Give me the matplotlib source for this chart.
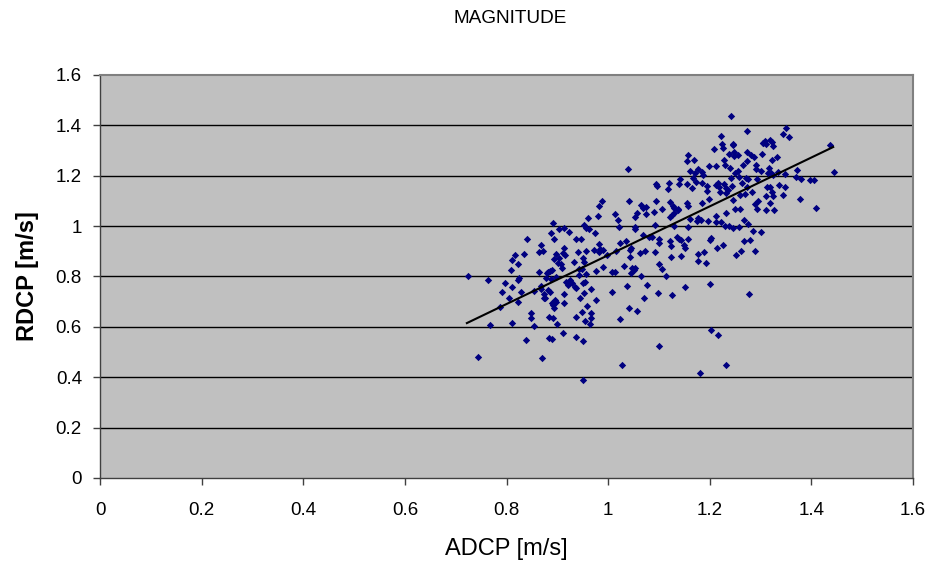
import numpy as np
import matplotlib
matplotlib.use("Agg")
import matplotlib.pyplot as plt

plt.rcParams['font.family'] = ['Liberation Sans', 'DejaVu Sans']

# --- datos (ADCP vs RDCP) ---
adcp = [
    0.725, 0.764, 0.743, 0.767, 0.787, 0.791, 0.797, 0.804, 0.810, 0.809,
    0.810, 0.817, 0.823, 0.823, 0.825, 0.828, 0.823, 0.810, 0.835, 0.841,
    0.838, 0.849, 0.849, 0.854, 0.854, 0.864, 0.863, 0.868, 0.871, 0.868,
    0.867, 0.873, 0.876, 0.873, 0.869, 0.877, 0.879, 0.882, 0.886, 0.890,
    0.882, 0.885, 0.884, 0.887, 0.891, 0.894, 0.897, 0.893, 0.888, 0.890,
    0.892, 0.894, 0.895, 0.897, 0.884, 0.890, 0.892, 0.899, 0.903, 0.903,
    0.897, 0.902, 0.907, 0.909, 0.913, 0.914, 0.912, 0.915, 0.913, 0.914,
    0.912, 0.918, 0.922, 0.923, 0.925, 0.928, 0.933, 0.934, 0.936, 0.937,
    0.947, 0.940, 0.942, 0.943, 0.936, 0.937, 0.951, 0.951, 0.948, 0.952,
    0.956, 0.961, 0.963, 0.951, 0.953, 0.956, 0.957, 0.950, 0.954, 0.953,
    0.945, 0.948, 0.959, 0.955, 0.966, 0.967, 0.964, 0.967, 0.972, 0.975,
    0.980, 0.983, 0.988, 0.976, 0.976, 0.982, 0.985, 0.990, 0.983, 0.989,
    0.997,
    # zona central
    1.040, 1.013, 1.019, 1.022, 1.024, 1.035, 1.016, 1.007, 1.013, 1.007,
    1.023, 1.032, 1.038, 1.041, 1.043, 1.046, 1.043, 1.047, 1.050, 1.052,
    1.045, 1.041, 1.056, 1.052, 1.053, 1.052, 1.056, 1.064, 1.069, 1.074,
    1.062, 1.064, 1.070, 1.069, 1.072, 1.075, 1.077, 1.081, 1.087, 1.090,
    1.093, 1.095, 1.095, 1.096, 1.093, 1.099, 1.101, 1.101, 1.101, 1.107,
    1.106, 1.114, 1.117, 1.120, 1.121, 1.122, 1.125, 1.127, 1.129, 1.122,
    1.123, 1.123, 1.126, 1.129, 1.130, 1.137, 1.138, 1.136, 1.140, 1.142,
    1.140, 1.144, 1.144, 1.150, 1.152, 1.152, 1.156, 1.158, 1.155, 1.157,
    1.158, 1.156, 1.158, 1.161, 1.162, 1.165, 1.167, 1.169, 1.171, 1.176,
    1.173, 1.174, 1.177, 1.176, 1.176, 1.184, 1.185, 1.186, 1.182, 1.184,
    1.188, 1.192, 1.194, 1.195, 1.196, 1.199, 1.200, 1.202, 1.217, 1.201,
    1.203, 1.198, 1.209, 1.213, 1.213, 1.213, 1.213, 1.217, 1.215, 1.219,
    1.220, 1.222, 1.225, 1.226, 1.228, 1.228, 1.227, 1.230, 1.232, 1.230,
    1.232, 1.232, 1.235, 1.238, 1.239, 1.238, 1.241, 1.243, 1.245, 1.245,
    1.245, 1.248, 1.248, 1.250, 1.250, 1.252, 1.255, 1.255, 1.257, 1.257,
    1.259, 1.259, 1.261, 1.264, 1.266, 1.268, 1.268, 1.270, 1.272, 1.273,
    1.274, 1.274, 1.276, 1.276, 1.278, 1.280, 1.282, 1.283, 1.285, 1.288,
    1.291, 1.290, 1.291, 1.293, 1.290, 1.293, 1.295, 1.301, 1.301, 1.303,
    1.304, 1.308,
    # puntos bajos y altos sueltos
    1.027, 1.100, 1.180, 1.232,
    1.242, 1.273, 1.223, 1.245, 1.305,
    # zona derecha
    1.350, 1.345, 1.356, 1.319, 1.323, 1.325, 1.310, 1.333, 1.322, 1.317,
    1.314, 1.321, 1.325, 1.334, 1.348, 1.371, 1.370, 1.379, 1.398, 1.405,
    1.437, 1.445, 1.312, 1.319, 1.336, 1.349, 1.323, 1.324, 1.310, 1.344,
    1.319, 1.377, 1.409, 1.311, 1.327,
]
rdcp = [
    0.801, 0.786, 0.482, 0.609, 0.678, 0.740, 0.773, 0.716, 0.757, 0.826,
    0.865, 0.887, 0.850, 0.786, 0.795, 0.737, 0.700, 0.617, 0.890, 0.949,
    0.547, 0.654, 0.634, 0.602, 0.744, 0.819, 0.899, 0.924, 0.901, 0.762,
    0.752, 0.729, 0.713, 0.716, 0.478, 0.793, 0.813, 0.818, 0.822, 0.826,
    0.746, 0.738, 0.639, 0.974, 1.014, 0.949, 0.888, 0.869, 0.789, 0.693,
    0.687, 0.674, 0.707, 0.699, 0.557, 0.553, 0.637, 0.610, 0.987, 0.873,
    0.799, 0.855, 0.851, 0.834, 0.994, 0.912, 0.892, 0.884, 0.729, 0.696,
    0.574, 0.777, 0.768, 0.977, 0.786, 0.773, 0.856, 0.759, 0.753, 0.948,
    0.949, 0.896, 0.829, 0.807, 0.639, 0.561, 0.545, 0.389, 0.828, 1.006,
    0.993, 1.033, 0.987, 0.872, 0.859, 0.902, 0.810, 0.775, 0.777, 0.733,
    0.715, 0.658, 0.682, 0.624, 0.654, 0.635, 0.611, 0.750, 0.905, 0.974,
    1.040, 1.078, 1.100, 0.821, 0.707, 0.928, 0.910, 0.905, 0.896, 0.836,
    0.884,
    # zona central
    1.228, 1.047, 1.024, 0.998, 0.932, 0.941, 0.901, 0.819, 0.817, 0.737,
    0.630, 0.843, 0.764, 1.100, 0.905, 0.912, 0.876, 0.835, 0.826, 0.833,
    0.813, 0.673, 0.663, 0.998, 0.987, 1.035, 1.054, 1.085, 1.073, 1.075,
    0.892, 0.802, 0.714, 0.965, 0.901, 1.048, 0.768, 0.957, 0.958, 1.055,
    1.006, 1.100, 1.166, 1.159, 0.899, 0.735, 0.948, 0.933, 0.848, 0.831,
    1.067, 0.801, 1.148, 1.170, 1.095, 1.038, 1.044, 1.081, 1.071, 0.942,
    0.921, 0.878, 0.728, 0.999, 1.051, 1.069, 1.062, 0.958, 0.950, 1.186,
    1.166, 0.883, 0.945, 0.924, 0.912, 0.760, 1.092, 1.079, 1.166, 0.995,
    1.282, 1.260, 0.948, 1.027, 1.219, 1.153, 1.193, 1.263, 1.210, 1.228,
    1.174, 1.022, 1.034, 0.888, 0.863, 1.171, 1.216, 1.202, 1.023, 1.091,
    0.899, 0.853, 1.141, 1.158, 1.020, 1.240, 0.769, 0.587, 0.567, 0.946,
    0.952, 1.107, 1.308, 1.239, 1.165, 1.042, 1.015, 1.171, 0.912, 1.157,
    1.134, 1.018, 1.326, 1.310, 1.263, 1.167, 0.925, 1.244, 1.054, 1.002,
    1.150, 1.130, 1.142, 1.288, 1.230, 1.001, 1.190, 1.159, 1.322, 1.103,
    0.994, 1.296, 1.278, 1.210, 1.068, 0.884, 1.284, 1.220, 1.195, 0.995,
    1.124, 1.068, 0.901, 1.173, 1.243, 0.939, 1.026, 1.128, 1.192, 1.257,
    1.296, 1.157, 1.186, 1.007, 0.731, 0.945, 1.282, 1.137, 0.982, 1.275,
    1.243, 1.088, 1.228, 1.067, 0.901, 1.189, 1.101, 1.219, 0.976, 1.286,
    1.329, 1.337,
    # puntos bajos y altos sueltos
    0.450, 0.525, 0.416, 0.447,
    1.437, 1.378, 1.358, 1.325, 1.331,
    # zona derecha
    1.388, 1.366, 1.355, 1.342, 1.333, 1.319, 1.325, 1.276, 1.262, 1.232,
    1.210, 1.210, 1.203, 1.216, 1.207, 1.223, 1.196, 1.188, 1.184, 1.184,
    1.322, 1.214, 1.157, 1.157, 1.162, 1.154, 1.134, 1.121, 1.121, 1.122,
    1.093, 1.109, 1.072, 1.064, 1.063,
]

# linea de tendencia (extremos leidos)
tend_x = [0.722, 1.443]
tend_y = [0.615, 1.314]

x_ticks = [0, 0.2, 0.4, 0.6, 0.8, 1.0, 1.2, 1.4, 1.6]
x_ticklabels = ['0', '0.2', '0.4', '0.6', '0.8', '1', '1.2', '1.4', '1.6']
y_ticks = [0, 0.2, 0.4, 0.6, 0.8, 1.0, 1.2, 1.4, 1.6]
y_ticklabels = ['0', '0.2', '0.4', '0.6', '0.8', '1', '1.2', '1.4', '1.6']

fig = plt.figure(figsize=(9.51, 5.63), dpi=100)
ax = fig.add_axes([0.1052, 0.151, 0.8548, 0.7158])
ax.set_facecolor('#C0C0C0')

for yv in y_ticks[1:-1]:
    ax.axhline(yv, color='black', linewidth=1.0, zorder=1)

ax.scatter(adcp, rdcp, marker='D', s=14, color='#000080', linewidths=0, zorder=3)
ax.plot(tend_x, tend_y, color='black', linewidth=1.5, zorder=4)

ax.set_xlim(0, 1.6)
ax.set_ylim(0, 1.6)
ax.set_xticks(x_ticks)
ax.set_xticklabels(x_ticklabels)
ax.set_yticks(y_ticks)
ax.set_yticklabels(y_ticklabels)
ax.tick_params(axis='both', direction='out', length=5, width=1, color='#404040',
               labelsize=13.5)
ax.tick_params(axis='x', pad=12)
ax.tick_params(axis='y', pad=8)

for lado in ['left', 'bottom']:
    ax.spines[lado].set_color('#404040')
    ax.spines[lado].set_linewidth(1.0)
for lado in ['top', 'right']:
    ax.spines[lado].set_color('#808080')
    ax.spines[lado].set_linewidth(1.5)

ax.set_xlabel('ADCP [m/s]', fontsize=17, labelpad=14)
ax.set_ylabel('RDCP [m/s]', fontsize=17, fontweight='bold', labelpad=12)
fig.text(0.536, 0.968, 'MAGNITUDE', ha='center', va='center', fontsize=13.7)

fig.savefig('out.png', dpi=100)
plt.close(fig)
